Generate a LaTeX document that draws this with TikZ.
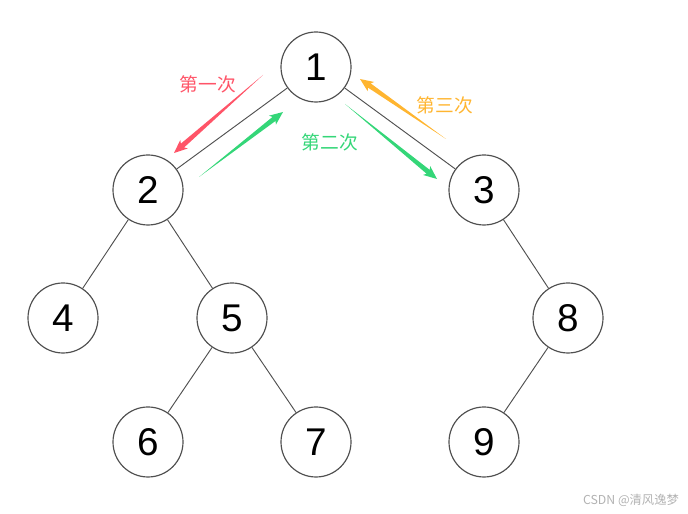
\documentclass[tikz,border=0pt]{standalone}
\usepackage{fontspec}
\setmainfont{Liberation Sans}
\newfontfamily\cjk{Noto Sans CJK SC}
\usetikzlibrary{calc}

\definecolor{firstred}{RGB}{255,84,104}
\definecolor{secondgreen}{RGB}{52,214,120}
\definecolor{thirdorange}{RGB}{255,181,48}
\definecolor{edgegray}{RGB}{80,80,80}

% tapered arrow: thin tail, thick shaft end, arrow head
\newcommand{\taperarrow}[3]{%
  \fill[#3] (#1) -- ($($(#2)!0.34cm!(#1)$)!0.075cm!90:(#2)$)
    -- ($($(#2)!0.40cm!(#1)$)!0.17cm!90:(#2)$) -- (#2)
    -- ($($(#2)!0.40cm!(#1)$)!0.17cm!-90:(#2)$)
    -- ($($(#2)!0.34cm!(#1)$)!0.075cm!-90:(#2)$) -- cycle;}

\tikzset{
  treenode/.style={circle,draw=edgegray,line width=1pt,fill=white,minimum size=2.1cm,inner sep=0pt,font=\fontsize{33}{33}\selectfont},
  treeedge/.style={draw=edgegray,line width=0.8pt},
  steplabel/.style={font=\cjk\fontsize{16}{16}\selectfont}
}

\begin{document}
\begin{tikzpicture}[x=0.03cm,y=-0.03cm]
\useasboundingbox (0,0) rectangle (688,514);

\node[treenode] (n1) at (316,67) {1};
\node[treenode] (n2) at (148,190) {2};
\node[treenode] (n3) at (484,190) {3};
\node[treenode] (n4) at (63,318) {4};
\node[treenode] (n5) at (232,318) {5};
\node[treenode] (n8) at (568,318) {8};
\node[treenode] (n6) at (148,442) {6};
\node[treenode] (n7) at (316,442) {7};
\node[treenode] (n9) at (484,442) {9};

\draw[treeedge] (n1) -- (n2);
\draw[treeedge] (n1) -- (n3);
\draw[treeedge] (n2) -- (n4);
\draw[treeedge] (n2) -- (n5);
\draw[treeedge] (n5) -- (n6);
\draw[treeedge] (n5) -- (n7);
\draw[treeedge] (n3) -- (n8);
\draw[treeedge] (n8) -- (n9);

% traversal steps
\coordinate (r_tail) at (263,75);
\coordinate (r_tip) at (174,153);
\coordinate (g1_tail) at (199,177);
\coordinate (g1_tip) at (283,112);
\coordinate (g2_tail) at (345,104);
\coordinate (g2_tip) at (437,179);
\coordinate (o_tail) at (446,139);
\coordinate (o_tip) at (360,79);

\taperarrow{r_tail}{r_tip}{firstred}
\taperarrow{g1_tail}{g1_tip}{secondgreen}
\taperarrow{g2_tail}{g2_tip}{secondgreen}
\taperarrow{o_tail}{o_tip}{thirdorange}

\node[steplabel,text=firstred] (lab1) at (208,84) {第一次};
\node[steplabel,text=secondgreen] (lab2) at (330,142) {第二次};
\node[steplabel,text=thirdorange] (lab3) at (445,105) {第三次};

\node[font=\cjk\fontsize{10.5}{10.5}\selectfont,text=black!30,anchor=east] (mark) at (683,500) {CSDN @清风逸梦};
\end{tikzpicture}
\end{document}
